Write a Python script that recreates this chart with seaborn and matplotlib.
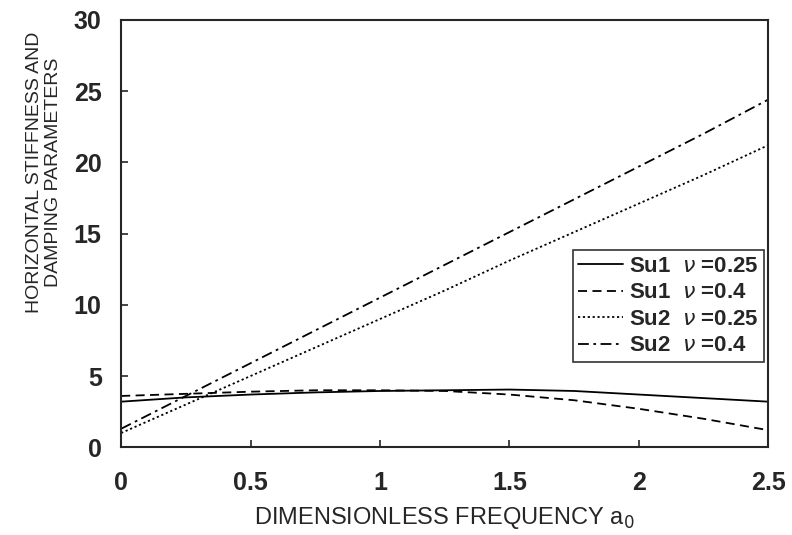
import matplotlib
matplotlib.use("Agg")
import matplotlib.pyplot as plt
import seaborn as sns
import pandas as pd
from matplotlib import font_manager

freq = [0.0, 0.25, 0.5, 0.75, 1.0, 1.25, 1.5, 1.75, 2.0, 2.25, 2.5]
su1_025 = [3.2, 3.5, 3.7, 3.85, 3.95, 4.0, 4.05, 3.95, 3.7, 3.45, 3.2]
su1_04 = [3.6, 3.75, 3.9, 4.0, 4.0, 3.95, 3.7, 3.3, 2.7, 2.0, 1.2]
su2_025 = [1.0, 3.0, 5.0, 7.0, 9.0, 11.0, 13.1, 15.1, 17.1, 19.1, 21.2]
su2_04 = [1.3, 3.6, 5.9, 8.2, 10.5, 12.8, 15.1, 17.4, 19.7, 22.0, 24.4]

labels = ["Su1  $\\nu$ =0.25", "Su1  $\\nu$ =0.4", "Su2  $\\nu$ =0.25", "Su2  $\\nu$ =0.4"]
series = [su1_025, su1_04, su2_025, su2_04]
styles = ["-", (0, (5, 3)), (0, (1.2, 1.5)), (0, (6, 2.5, 1.5, 2.5))]

sns.set_style("ticks")
plt.rcParams["font.family"] = ["Liberation Sans", "DejaVu Sans"]
plt.rcParams["mathtext.fontset"] = "dejavusans"

names = {f.name for f in font_manager.fontManager.ttflist}
narrow = "Liberation Sans Narrow" in names

fig, ax = plt.subplots(figsize=(7.92, 5.35), dpi=100)
fig.subplots_adjust(left=0.153, right=0.970, top=0.963, bottom=0.164)

for lab, vals, ls in zip(labels, series, styles):
    df = pd.DataFrame({"x": freq, "y": vals})
    sns.lineplot(data=df, x="x", y="y", ax=ax, color="black", linewidth=1.3,
                 linestyle=ls, label=lab)

ax.set_xlim(0, 2.5)
ax.set_ylim(0, 30)
ax.set_xticks([0, 0.5, 1, 1.5, 2, 2.5])
ax.set_xticklabels(["0", "0.5", "1", "1.5", "2", "2.5"])
ax.set_yticks([0, 5, 10, 15, 20, 25, 30])
ax.tick_params(direction="in", length=5, width=1.2, labelsize=18)
ax.tick_params(axis="x", pad=17)
ax.tick_params(axis="y", pad=14)
for t in ax.get_xticklabels() + ax.get_yticklabels():
    t.set_fontweight("bold")
for s in ax.spines.values():
    s.set_linewidth(1.5)
    s.set_visible(True)

ax.set_xlabel("DIMENSIONLESS FREQUENCY a$_0$", fontsize=17)
ax.xaxis.set_label_coords(0.5, -0.135)
if narrow:
    ax.set_ylabel("HORIZONTAL STIFFNESS AND\nDAMPING PARAMETERS", fontsize=16.5,
                  linespacing=1.05, family=["Liberation Sans Narrow", "DejaVu Sans"])
else:
    ax.set_ylabel("HORIZONTAL STIFFNESS AND\nDAMPING PARAMETERS", fontsize=14,
                  linespacing=1.15)
ax.yaxis.set_label_coords(-0.092, 0.644)

leg = ax.legend(loc="upper right", bbox_to_anchor=(0.994, 0.461), frameon=True,
                fancybox=False, edgecolor="black",
                prop={"size": 16, "weight": "bold"}, handlelength=2.0,
                handletextpad=0.3, borderpad=0.25, labelspacing=0.25,
                borderaxespad=0.0)
leg.get_frame().set_linewidth(1.2)

fig.savefig("out.png", dpi=100)
